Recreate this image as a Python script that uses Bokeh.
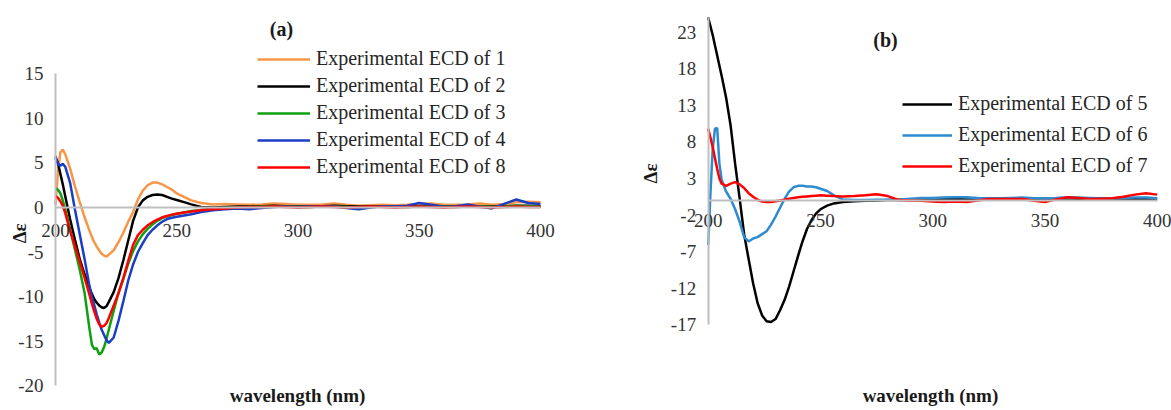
from math import pi
from bokeh.plotting import figure
from bokeh.layouts import row
from bokeh.models import (Range1d, FixedTicker, Legend, LegendItem, Label,
                          CustomJSTickFormatter)
from bokeh.embed import file_html
from bokeh.resources import INLINE

# ---------------- data: panel (a) ----------------
wl_a = [200, 201, 202, 203, 204, 206, 208, 210, 212, 214, 215, 216, 217, 218, 219, 220, 221, 222,
        224, 226, 228, 230, 232, 234, 236, 238, 240, 242, 244, 246, 248, 250, 253, 256, 260,
        265, 270, 275, 280, 285, 290, 295, 300, 305, 310, 315, 320, 325, 330, 335, 340, 345,
        350, 355, 360, 365, 370, 375, 380, 385, 390, 395, 400]

ecd_1 = [0.3, 4.0, 6.2, 6.5, 6.0, 4.4, 2.4, 0.6, -1.1, -2.6, -3.3, -3.9, -4.4, -4.8, -5.2, -5.4, -5.5, -5.3,
         -4.8, -3.9, -2.8, -1.6, -0.5, 0.9, 1.9, 2.5, 2.8, 2.8, 2.6, 2.3, 2.0, 1.6, 1.2, 0.8, 0.5,
         0.35, 0.4, 0.35, 0.3, 0.35, 0.45, 0.4, 0.3, 0.3, 0.35, 0.45, 0.3, 0.2, 0.25, 0.3, 0.25, 0.3,
         0.4, 0.45, 0.3, 0.3, 0.35, 0.45, 0.3, 0.4, 0.6, 0.65, 0.6]

ecd_2 = [5.6, 5.0, 3.8, 2.6, 1.3, -1.3, -3.6, -5.8, -7.5, -9.0, -9.7, -10.3, -10.7, -11.0, -11.2, -11.3, -11.1, -10.6,
         -9.5, -7.9, -5.9, -3.7, -1.5, 0.0, 0.8, 1.2, 1.4, 1.45, 1.4, 1.2, 1.0, 0.85, 0.6, 0.35, 0.05,
         0.0, 0.05, 0.1, 0.1, 0.15, 0.2, 0.15, 0.1, 0.1, 0.15, 0.2, 0.15, 0.1, 0.1, 0.15, 0.1, 0.1,
         0.15, 0.2, 0.15, 0.1, 0.1, 0.15, 0.1, 0.15, 0.2, 0.2, 0.15]

ecd_3 = [2.2, 2.0, 1.6, 0.8, -0.2, -2.4, -4.7, -7.0, -9.6, -13.6, -15.4, -15.9, -15.8, -16.5, -16.3, -15.7, -14.8, -13.7,
         -11.6, -9.6, -8.0, -6.3, -4.9, -3.8, -3.0, -2.4, -1.9, -1.5, -1.2, -1.0, -0.85, -0.7, -0.55, -0.4, -0.3,
         -0.15, -0.05, 0.0, 0.05, 0.1, 0.1, 0.1, 0.05, 0.05, 0.1, 0.1, 0.05, 0.0, 0.05, 0.1, 0.1, 0.05,
         0.1, 0.15, 0.1, 0.05, 0.1, 0.15, 0.05, 0.1, 0.2, 0.15, 0.1]

ecd_4 = [5.8, 4.9, 4.7, 4.9, 4.6, 2.8, -0.2, -3.0, -5.8, -8.8, -10.0, -11.0, -12.0, -12.9, -13.7, -14.3, -14.9, -15.2,
         -14.6, -12.7, -10.5, -8.2, -6.4, -5.0, -4.0, -3.1, -2.5, -2.0, -1.6, -1.3, -1.15, -1.05, -0.9, -0.75, -0.5,
         -0.3, -0.2, -0.1, -0.2, -0.05, 0.05, 0.1, 0.05, 0.1, 0.15, 0.1, -0.05, -0.2, 0.0, 0.15, 0.1, 0.2,
         0.5, 0.3, 0.05, 0.15, 0.35, 0.1, -0.1, 0.4, 0.9, 0.5, 0.4]

ecd_8 = [1.3, 1.1, 0.7, 0.2, -0.6, -2.6, -4.3, -6.1, -7.9, -9.8, -10.8, -11.7, -12.5, -13.1, -13.4, -13.3, -13.0, -12.4,
         -11.0, -9.6, -7.9, -6.0, -4.2, -3.1, -2.5, -2.0, -1.65, -1.35, -1.1, -0.95, -0.8, -0.7, -0.55, -0.45, -0.3,
         -0.2, -0.1, 0.0, 0.05, 0.05, 0.1, 0.05, 0.0, 0.05, 0.1, 0.05, 0.0, 0.05, 0.1, 0.05, 0.0, 0.05,
         0.1, 0.05, 0.0, 0.05, 0.1, 0.05, 0.0, 0.05, 0.1, 0.05, 0.05]

# ---------------- data: panel (b) ----------------
wl_b = [200, 201, 202, 203, 204, 205, 206, 208, 210, 212, 214, 216, 218, 220, 222, 224, 226, 228,
        230, 232, 234, 236, 238, 240, 242, 244, 246, 248, 250, 253, 256, 260,
        265, 270, 275, 280, 285, 290, 295, 300, 305, 310, 315, 320, 325, 330, 335, 340, 345,
        350, 355, 360, 365, 370, 375, 380, 385, 390, 395, 400]

ecd_5 = [25.0, 23.8, 22.6, 21.2, 19.8, 18.4, 17.0, 14.0, 10.2, 5.0, 0.3, -4.6, -8.0, -11.3, -14.0, -15.7, -16.5, -16.6,
         -16.2, -15.0, -13.6, -11.8, -9.7, -7.6, -5.6, -3.9, -2.7, -1.8, -1.2, -0.7, -0.4, -0.2,
         -0.1, -0.05, 0.0, 0.05, 0.1, 0.05, 0.1, 0.15, 0.2, 0.2, 0.15, 0.1, 0.15, 0.2, 0.2, 0.15, 0.2,
         0.2, 0.25, 0.3, 0.25, 0.15, 0.2, 0.25, 0.2, 0.2, 0.25, 0.2]

ecd_6 = [-6.1, 1.0, 7.0, 9.8, 9.9, 5.0, 2.8, 1.2, 0.2, -1.2, -2.9, -5.0, -5.6, -5.2, -5.0, -4.6, -4.2, -3.3,
         -2.2, -1.0, 0.2, 1.2, 1.8, 2.0, 2.0, 1.9, 1.9, 1.8, 1.6, 1.3, 0.7, 0.15,
         0.05, 0.05, 0.1, 0.1, 0.15, 0.25, 0.35, 0.35, 0.4, 0.45, 0.45, 0.35, 0.3, 0.3, 0.35, 0.4, 0.3,
         0.3, 0.35, 0.45, 0.4, 0.35, 0.3, 0.3, 0.35, 0.4, 0.4, 0.3]

ecd_7 = [9.8, 8.6, 7.3, 5.8, 4.3, 3.0, 2.3, 2.0, 2.3, 2.5, 2.2, 1.7, 1.0, 0.5, 0.1, -0.15, -0.2, -0.2,
         -0.1, 0.0, 0.1, 0.25, 0.35, 0.45, 0.5, 0.55, 0.6, 0.65, 0.7, 0.65, 0.6, 0.55,
         0.6, 0.7, 0.85, 0.6, 0.05, 0.0, -0.05, -0.15, -0.2, -0.15, -0.2, 0.0, 0.2, 0.2, 0.2, 0.2, -0.05,
         -0.2, 0.15, 0.45, 0.35, 0.2, 0.25, 0.3, 0.5, 0.8, 1.0, 0.8]

x_ticks = [200, 250, 300, 350, 400]
y_ticks_a = [-20, -15, -10, -5, 0, 5, 10, 15]
y_ticks_b = [-17, -12, -7, -2, 3, 8, 13, 18, 23]

labels_a = ["Experimental ECD of 1", "Experimental ECD of 2", "Experimental ECD of 3",
            "Experimental ECD of 4", "Experimental ECD of 8"]
labels_b = ["Experimental ECD of 5", "Experimental ECD of 6", "Experimental ECD of 7"]
colors_a = ["#F79646", "#000000", "#0FA00F", "#1A3FC4", "#FF0000"]
colors_b = ["#000000", "#2F8BD0", "#FF0000"]

SERIF = "Liberation Serif"
AXIS_GRAY = "#BFBFBF"
FMT = CustomJSTickFormatter(code="return tick.toString();")


def make_panel(width, xr, yr, yticks, ybounds, x_standoff):
    p = figure(width=width, height=410, output_backend="svg", toolbar_location=None,
               x_range=Range1d(*xr), y_range=Range1d(*yr),
               min_border_left=0, min_border_right=0, min_border_top=0, min_border_bottom=0)
    p.outline_line_color = None
    p.grid.visible = False
    p.background_fill_color = "white"
    p.border_fill_color = "white"

    xa = p.xaxis[0]
    xa.fixed_location = 0
    xa.bounds = (200, 400)
    xa.ticker = FixedTicker(ticks=x_ticks)
    xa.formatter = FMT
    ya = p.yaxis[0]
    ya.fixed_location = 200
    ya.bounds = ybounds
    ya.ticker = FixedTicker(ticks=yticks)
    ya.formatter = FMT
    for ax in (xa, ya):
        ax.axis_line_color = AXIS_GRAY
        ax.axis_line_width = 2
        ax.major_tick_line_color = None
        ax.minor_tick_line_color = None
        ax.major_tick_out = 0
        ax.major_tick_in = 0
        ax.major_label_text_font = SERIF
        ax.major_label_text_font_size = "19px"
        ax.major_label_text_color = "#333333"
    xa.major_label_standoff = x_standoff
    ya.major_label_standoff = 12
    return p


def add_legend(p, rends, labels, loc, gw, spacing):
    leg = Legend(items=[LegendItem(label=l, renderers=[r]) for l, r in zip(labels, rends)],
                 location=loc, label_text_font=SERIF, label_text_font_size="20px",
                 label_text_color="#262626", glyph_width=gw, glyph_height=20, label_height=20,
                 spacing=spacing, padding=0, margin=0, label_standoff=6,
                 border_line_color=None, background_fill_alpha=0)
    p.add_layout(leg)


def add_text(p, x, y, text, size="19px", angle=0.0):
    p.add_layout(Label(x=x, y=y, text=text, angle=angle, text_font=SERIF, text_font_size=size,
                       text_font_style="bold", text_align="center", text_baseline="middle",
                       text_color="#1a1a1a"))


# ---- panel (a)
pa = make_panel(610, (177.32, 428.87), (-22.80, 23.25), y_ticks_a, (-20, 15), 16)
rends_a = []
for ys, c in zip([ecd_1, ecd_2, ecd_3, ecd_4, ecd_8], colors_a):
    rends_a.append(pa.line(wl_a, ys, line_color=c, line_width=2.5))
add_legend(pa, rends_a, labels_a, (257, 232), 53, 4)
add_text(pa, 293.2, 20.1, "(a)", "20px")
add_text(pa, 185.2, -2.9, "Δε", angle=pi / 2)
add_text(pa, 299.8, -21.1, "wavelength (nm)")

# ---- panel (b)
pb = make_panel(561, (156.48, 406.37), (-28.69, 27.32), y_ticks_b, (-17, 25), 14)
rends_b = []
for ys, c in zip([ecd_5, ecd_6, ecd_7], colors_b):
    rends_b.append(pb.line(wl_b, ys, line_color=c, line_width=2.5))
add_legend(pb, rends_b, labels_b, (292, 233), 50, 8)
add_text(pb, 279, 21.9, "(b)", "20px")
add_text(pb, 174.3, 3.7, "Δε", angle=pi / 2)
add_text(pb, 299.0, -26.65, "wavelength (nm)")

layout = row(pa, pb)
open("out.html", "w").write(file_html(layout, INLINE))
